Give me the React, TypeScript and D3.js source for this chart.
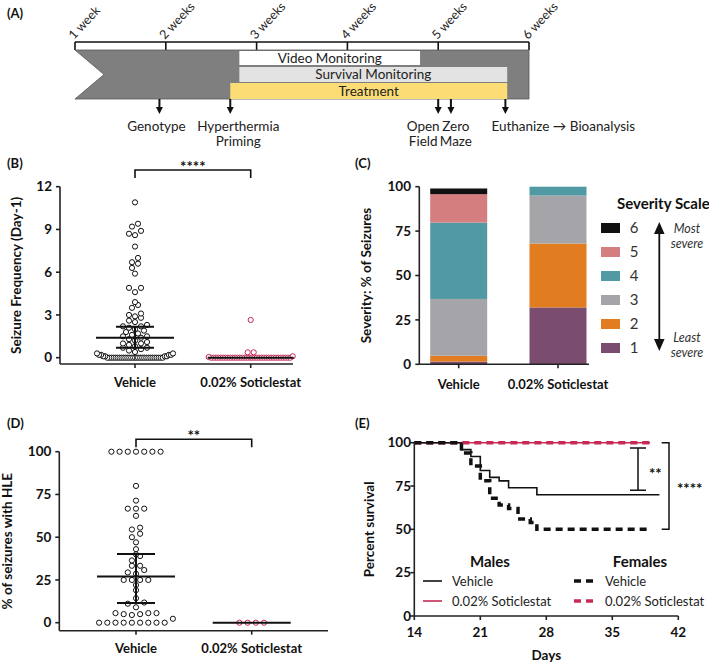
import React from "react";
import * as d3 from "d3";

const FONT = "Lato, 'Open Sans', Arial, sans-serif";
const RED = "#c62a55";

// ---------- Panel A: timeline ----------
const weekTicks = [1, 2, 3, 4, 5, 6];
const weekLabels = ["1 week", "2 weeks", "3 weeks", "4 weeks", "5 weeks", "6 weeks"];
const phaseNames = ["Video Monitoring", "Survival Monitoring", "Treatment"];
const phaseStart = [2.81, 2.81, 2.71];
const phaseEnd = [4.8, 5.76, 5.76];
const phaseColors = ["#ffffff", "#e3e3e3", "#fcdc74"];
const eventWeeks = [1.93, 2.71, 5.0, 5.14, 5.74];
const eventLabels = [["Genotype"], ["Hyperthermia", "Priming"], ["Open", "Field"], ["Zero", "Maze"], ["Euthanize \u2192 Bioanalysis"]];

// ---------- Panel B: seizure frequency ----------
const categories = ["Vehicle", "0.02% Soticlestat"];
const freqVehicle = [
  0, 0, 0, 0, 0, 0, 0, 0, 0, 0, 0, 0, 0, 0, 0, 0, 0, 0, 0, 0, 0, 0, 0, 0, 0, 0, 0, 0,
  0.1, 0.1, 0.1, 0.1, 0.2, 0.2, 0.2, 0.2, 0.3, 0.3, 0.4, 0.5, 0.6, 0.7, 0.7, 0.8, 0.9,
  1.0, 1.0, 1.1, 1.2, 1.3, 1.4, 1.5, 1.5, 1.6, 1.7, 1.8, 1.9, 2.0, 2.1, 2.2, 2.2, 2.3,
  2.5, 2.6, 2.8, 2.9, 3.0, 3.1, 3.5, 3.7, 3.9, 4.6, 4.9, 4.9, 5.9, 6.3, 6.6, 6.7, 7.0,
  7.8, 8.6, 8.7, 8.9, 9.2, 9.4, 10.9,
];
const freqSoticlestat = [
  0, 0, 0, 0, 0, 0, 0, 0, 0, 0, 0, 0, 0, 0, 0, 0, 0, 0, 0, 0, 0, 0, 0, 0, 0, 0, 0, 0, 0, 0,
  0, 0, 0, 0, 0.05, 0.1, 0.38, 0.38, 2.65,
];
const freqCenter = [1.4, 0];
const freqLow = [0.7, 0];
const freqHigh = [2.17, 0];
const freqTicks = [0, 3, 6, 9, 12];

// ---------- Panel C: severity ----------
const severityLevels = [1, 2, 3, 4, 5, 6];
const severityVehicle = [1.5, 3.3, 32, 43, 16, 3.2];
const severitySoticlestat = [32, 36, 27, 5, 0, 0];
const severityColors = ["#7a4d70", "#e27c20", "#a5a5a9", "#5199a3", "#d47e80", "#111111"];
const pctTicks = [0, 25, 50, 75, 100];

// ---------- Panel D: HLE ----------
const hleVehicle = [
  0, 0, 0, 0, 0, 0, 0, 0, 0, 2.3, 4.5, 5, 5, 5.6, 5.6, 5.6, 9, 11.1, 11.8, 14.3, 19, 22,
  25, 25, 25, 25, 28.6, 29.4, 30.8, 33.3, 33.3, 36.4, 39, 40, 43, 47, 50, 52, 54.5, 55.6,
  62.5, 66.7, 66.7, 66.7, 71.4, 80, 100, 100, 100, 100, 100, 100, 100,
];
const hleSoticlestat = [0, 0, 0, 0];
const hleCenter = [27, 0];
const hleLow = [11.5, 0];
const hleHigh = [40.2, 0];

// ---------- Panel E: survival ----------
const maleVehDays = [14, 19, 20, 21, 22, 23, 24, 27, 40];
const maleVehSurv = [100, 96, 92, 84, 80, 78, 74, 70, 70];
const femaleVehDays = [14, 19, 20, 21, 22, 23, 24, 25, 26.3, 27, 39];
const femaleVehSurv = [100, 94, 86.5, 78, 68, 64, 62, 56, 54, 50, 50];
const maleSotDays = [14, 39];
const maleSotSurv = [100, 100];
const femaleSotDays = [14, 39];
const femaleSotSurv = [100, 100];
const dayTicks = [14, 21, 28, 35, 42];

type Dot = { x: number; y: number };
function swarm(values: number[], y: (v: number) => number, cx: number, spacing: number, maxW: number, binPx: number): Dot[] {
  const sorted = [...values].sort((a, b) => a - b);
  const bins: number[][] = [];
  let cur: number[] = [];
  let startY = 0;
  for (const v of sorted) {
    const py = y(v);
    if (cur.length && Math.abs(py - startY) > binPx) {
      bins.push(cur);
      cur = [];
    }
    if (!cur.length) startY = py;
    cur.push(v);
  }
  if (cur.length) bins.push(cur);
  const out: Dot[] = [];
  for (const b of bins) {
    const n = b.length;
    const s = n > 1 ? Math.min(spacing, maxW / (n - 1)) : 0;
    // slots ordered centre-out; the smallest values take the central slots
    const slots = d3.range(n).map((i) => (i - (n - 1) / 2) * s);
    slots.sort((a, c) => Math.abs(a) - Math.abs(c) || a - c);
    b.forEach((v, i) => out.push({ x: cx + slots[i], y: y(v) }));
  }
  return out;
}

function DotPanel(props: {
  label: string;
  title: string;
  titleX: number;
  yScale: d3.ScaleLinear<number, number>;
  ticks: number[];
  xScale: d3.ScalePoint<string>;
  axisY: number;
  axisX0: number;
  axisX1: number;
  series: number[][];
  center: number[];
  low: number[];
  high: number[];
  spacing: number;
  maxW: number[];
  sig: string;
  sigY: number;
  labelY: number;
  catY: number;
}) {
  const { yScale, xScale } = props;
  const yTop = yScale(props.ticks[props.ticks.length - 1]);
  const xs = categories.map((c) => xScale(c) as number);
  const colors = ["#111", RED];
  return (
    <g>
      <text x={7} y={props.labelY} fontSize={13} fontWeight="bold">{props.label}</text>
      <line x1={props.axisX0} x2={props.axisX0} y1={yTop} y2={props.axisY} stroke="#222" strokeWidth={1.6} />
      {props.ticks.map((t) => (
        <g key={t}>
          <line x1={props.axisX0 - 4} x2={props.axisX0} y1={yScale(t)} y2={yScale(t)} stroke="#222" strokeWidth={1.6} />
          <text x={props.axisX0 - 8} y={yScale(t)} dy="0.35em" textAnchor="end" fontSize={13.5} fontWeight="bold">{t}</text>
        </g>
      ))}
      <line x1={props.axisX0} x2={props.axisX1} y1={props.axisY} y2={props.axisY} stroke="#222" strokeWidth={1.6} />
      {categories.map((c, i) => (
        <g key={c}>
          <line x1={xs[i]} x2={xs[i]} y1={props.axisY} y2={props.axisY + 4} stroke="#222" strokeWidth={1.6} />
          <text x={xs[i]} y={props.catY} textAnchor="middle" fontSize={13} fontWeight="bold">{c}</text>
        </g>
      ))}
      <text transform={`translate(${props.titleX},${(yTop + props.axisY) / 2}) rotate(-90)`} textAnchor="middle" fontSize={13.5} fontWeight="bold">{props.title}</text>
      {props.series.map((vals, i) =>
        swarm(vals, (v) => yScale(v), xs[i], props.spacing, props.maxW[i], 5).map((d, j) => (
          <circle key={`${i}-${j}`} cx={d.x} cy={d.y} r={2.6} fill="#fff" stroke={colors[i]} strokeWidth={1} />
        ))
      )}
      {categories.map((c, i) => {
        const half = props.maxW[i] / 2 + 1;
        return (
          <g key={c}>
            <line x1={xs[i] - half} x2={xs[i] + half} y1={yScale(props.center[i])} y2={yScale(props.center[i])} stroke="#111" strokeWidth={2} />
            {props.high[i] > props.low[i] && (
              <g>
                <line x1={xs[i]} x2={xs[i]} y1={yScale(props.low[i])} y2={yScale(props.high[i])} stroke="#111" strokeWidth={2} />
                <line x1={xs[i] - 19} x2={xs[i] + 19} y1={yScale(props.low[i])} y2={yScale(props.low[i])} stroke="#111" strokeWidth={2} />
                <line x1={xs[i] - 19} x2={xs[i] + 19} y1={yScale(props.high[i])} y2={yScale(props.high[i])} stroke="#111" strokeWidth={2} />
              </g>
            )}
          </g>
        );
      })}
      <path d={`M${xs[0]},${props.sigY + 8}V${props.sigY}H${xs[1]}V${props.sigY + 8}`} fill="none" stroke="#111" strokeWidth={1.6} />
      <text x={(xs[0] + xs[1]) / 2} y={props.sigY + 2} textAnchor="middle" fontSize={15} fontWeight="bold">{props.sig}</text>
    </g>
  );
}

export default function App() {
  const xw = d3.scaleLinear().domain([1, 6]).range([75, 529]);
  const barTop = 50, barBot = 99;
  const phaseY = [51, 67, 83];
  const phaseH = [14, 15, 16];
  const evAnchor = ["middle", "middle", "middle", "middle", "start"];
  const evDx = [-3, 8, -15, 5, -14];

  const yB = d3.scaleLinear().domain([0, 12]).range([357.7, 186.7]);
  const xB = d3.scalePoint<string>().domain(categories).range([135, 250.7]);
  const yD = d3.scaleLinear().domain([0, 100]).range([622.7, 451.7]);
  const xD = d3.scalePoint<string>().domain(categories).range([136, 251.7]);
  const yC = d3.scaleLinear().domain([0, 100]).range([364.3, 186.7]);
  const xC = d3.scalePoint<string>().domain(categories).range([458.7, 558]);
  const barW = 57;
  const stacks = [severityVehicle, severitySoticlestat];
  const xE = d3.scaleLinear().domain([14, 42]).range([414.3, 678.3]);
  const yE = d3.scaleLinear().domain([0, 100]).range([616, 442.7]);
  const line = (days: number[], surv: number[]) =>
    d3.line<number>().x((_, i) => xE(days[i])).y((d) => yE(d)).curve(d3.curveStepAfter)(surv) || "";

  return (
    <svg width={709} height={662} style={{ position: "absolute", left: 0, top: 0, background: "#fff" }} fontFamily={FONT} fill="#111">
      {/* ================= Panel A ================= */}
      <text x={7} y={18} fontSize={13} fontWeight="bold">(A)</text>
      <line x1={xw(1)} x2={xw(6)} y1={42} y2={42} stroke="#111" strokeWidth={1.6} />
      {weekTicks.map((w, i) => (
        <g key={w}>
          <line x1={xw(w)} x2={xw(w)} y1={42} y2={barTop} stroke="#111" strokeWidth={1.6} />
          <text transform={`translate(${xw(w) - 1},${40}) rotate(-47)`} fontSize={12.5} fill="#222">{weekLabels[i]}</text>
        </g>
      ))}
      <polygon
        points={`${xw(1)},${barTop} ${xw(6)},${barTop} ${xw(6)},${barBot} ${xw(1)},${barBot} ${xw(1) + 29},${(barTop + barBot) / 2}`}
        fill="#7f7f7f"
        stroke="#555"
        strokeWidth={0.8}
      />
      {phaseNames.map((p, i) => (
        <g key={p}>
          <rect x={xw(phaseStart[i])} y={phaseY[i]} width={xw(phaseEnd[i]) - xw(phaseStart[i])} height={phaseH[i]} fill={phaseColors[i]} />
          <text x={(xw(phaseStart[i]) + xw(phaseEnd[i])) / 2} y={phaseY[i] + phaseH[i] / 2} dy="0.36em" textAnchor="middle" fontSize={13.5} fill="#222">{p}</text>
        </g>
      ))}
      {eventWeeks.map((w, i) => (
        <g key={i}>
          <line x1={xw(w)} x2={xw(w)} y1={barBot} y2={108} stroke="#111" strokeWidth={2} />
          <polygon points={`${xw(w) - 3.5},${107} ${xw(w) + 3.5},${107} ${xw(w)},${114}`} fill="#111" />
          {eventLabels[i].map((t, k) => (
            <text key={k} x={xw(w) + evDx[i]} y={131 + k * 15} textAnchor={evAnchor[i] as any} fontSize={13.5} fill="#222">{t}</text>
          ))}
        </g>
      ))}

      {/* ================= Panel B ================= */}
      <DotPanel
        label="(B)" title="Seizure Frequency (Day-1)" titleX={21}
        yScale={yB} ticks={freqTicks} xScale={xB}
        axisY={364} axisX0={60} axisX1={293}
        series={[freqVehicle, freqSoticlestat]}
        center={freqCenter} low={freqLow} high={freqHigh}
        spacing={6} maxW={[76, 84]} sig="****" sigY={170} labelY={168} catY={387}
      />

      {/* ================= Panel D ================= */}
      <DotPanel
        label="(D)" title="% of seizures with HLE" titleX={12}
        yScale={yD} ticks={pctTicks} xScale={xD}
        axisY={630.7} axisX0={59.3} axisX1={328}
        series={[hleVehicle, hleSoticlestat]}
        center={hleCenter} low={hleLow} high={hleHigh}
        spacing={8.2} maxW={[76, 76]} sig="**" sigY={439.3} labelY={428} catY={653}
      />

      {/* ================= Panel C ================= */}
      <text x={355} y={168} fontSize={13} fontWeight="bold">(C)</text>
      {stacks.map((vals, ci) => {
        const cx = xC(categories[ci]) as number;
        let acc = 0;
        return (
          <g key={ci}>
            {vals.map((v, li) => {
              const y0 = acc;
              acc += v;
              return v > 0 ? (
                <rect key={li} x={cx - barW / 2} y={yC(acc)} width={barW} height={yC(y0) - yC(acc)} fill={severityColors[li]} />
              ) : null;
            })}
          </g>
        );
      })}
      <line x1={419.3} x2={419.3} y1={yC(100)} y2={yC(0)} stroke="#222" strokeWidth={1.6} />
      <line x1={419.3} x2={589} y1={yC(0)} y2={yC(0)} stroke="#222" strokeWidth={1.6} />
      {pctTicks.map((t) => (
        <g key={t}>
          <line x1={415.3} x2={419.3} y1={yC(t)} y2={yC(t)} stroke="#222" strokeWidth={1.6} />
          <text x={411} y={yC(t)} dy="0.35em" textAnchor="end" fontSize={13.5} fontWeight="bold">{t}</text>
        </g>
      ))}
      {categories.map((c) => (
        <g key={c}>
          <line x1={xC(c) as number} x2={xC(c) as number} y1={yC(0)} y2={yC(0) + 4} stroke="#222" strokeWidth={1.6} />
          <text x={xC(c) as number} y={389} textAnchor="middle" fontSize={13} fontWeight="bold">{c}</text>
        </g>
      ))}
      <text transform={`translate(371,${(yC(100) + yC(0)) / 2}) rotate(-90)`} textAnchor="middle" fontSize={13.5} fontWeight="bold">Severity: % of Seizures</text>
      <text x={617} y={209} fontSize={15} fontWeight="bold">Severity Scale</text>
      {severityLevels.map((lv, i) => {
        const cy = 228 + (6 - lv) * 24;
        return (
          <g key={lv}>
            <rect x={601} y={cy - 5} width={19} height={10} fill={severityColors[i]} />
            <text x={634} y={cy} dy="0.36em" textAnchor="middle" fontSize={15} fill="#333">{lv}</text>
          </g>
        );
      })}
      <line x1={659.3} x2={659.3} y1={232} y2={341} stroke="#111" strokeWidth={1.8} />
      <polygon points="654,234 664.6,234 659.3,222" fill="#111" />
      <polygon points="654,339 664.6,339 659.3,351" fill="#111" />
      <text x={687} y={233} textAnchor="middle" fontSize={12.5} fontStyle="italic" fill="#333">Most</text>
      <text x={687} y={248} textAnchor="middle" fontSize={12.5} fontStyle="italic" fill="#333">severe</text>
      <text x={687} y={342} textAnchor="middle" fontSize={12.5} fontStyle="italic" fill="#333">Least</text>
      <text x={687} y={357} textAnchor="middle" fontSize={12.5} fontStyle="italic" fill="#333">severe</text>

      {/* ================= Panel E ================= */}
      <text x={355} y={428} fontSize={13} fontWeight="bold">(E)</text>
      <path d={line(maleSotDays, maleSotSurv)} fill="none" stroke={RED} strokeWidth={1.4} />
      <path d={line(femaleSotDays, femaleSotSurv)} fill="none" stroke={RED} strokeWidth={3.5} strokeDasharray="7,5" />
      <path d={line(maleVehDays, maleVehSurv)} fill="none" stroke="#111" strokeWidth={1.6} />
      <path d={line(femaleVehDays, femaleVehSurv)} fill="none" stroke="#111" strokeWidth={3.5} strokeDasharray="7,5" />
      <line x1={xE(14)} x2={xE(14)} y1={yE(100)} y2={yE(0)} stroke="#222" strokeWidth={1.6} />
      <line x1={xE(14)} x2={xE(42)} y1={yE(0)} y2={yE(0)} stroke="#222" strokeWidth={1.6} />
      {pctTicks.map((t) => (
        <g key={t}>
          <line x1={xE(14) - 4} x2={xE(14)} y1={yE(t)} y2={yE(t)} stroke="#222" strokeWidth={1.6} />
          <text x={411} y={yE(t)} dy="0.35em" textAnchor="end" fontSize={13.5} fontWeight="bold">{t}</text>
        </g>
      ))}
      {dayTicks.map((t) => (
        <g key={t}>
          <line x1={xE(t)} x2={xE(t)} y1={yE(0)} y2={yE(0) + 4} stroke="#222" strokeWidth={1.6} />
          <text x={xE(t)} y={637} textAnchor="middle" fontSize={13.5} fontWeight="bold">{t}</text>
        </g>
      ))}
      <text x={xE(28)} y={660} textAnchor="middle" fontSize={13.5} fontWeight="bold">Days</text>
      <text transform={`translate(374,${(yE(100) + yE(0)) / 2}) rotate(-90)`} textAnchor="middle" fontSize={13.5} fontWeight="bold">Percent survival</text>
      <path d={`M630,${yE(97)}H646M638,${yE(97)}V${yE(72.5)}M630,${yE(72.5)}H646`} fill="none" stroke="#111" strokeWidth={1.5} />
      <text x={649} y={479} fontSize={15} fontWeight="bold">**</text>
      <path d={`M661.7,${yE(100)}H669V${yE(50)}H661.7`} fill="none" stroke="#111" strokeWidth={1.5} />
      <text x={677} y={494} fontSize={15} fontWeight="bold">****</text>
      <text x={490} y={567} textAnchor="middle" fontSize={15} fontWeight="bold">Males</text>
      <text x={640} y={567} textAnchor="middle" fontSize={15} fontWeight="bold">Females</text>
      <line x1={423} x2={442} y1={581} y2={581} stroke="#111" strokeWidth={1.6} />
      <text x={452} y={581} dy="0.36em" fontSize={13} fill="#222">Vehicle</text>
      <line x1={423} x2={442} y1={601} y2={601} stroke={RED} strokeWidth={1.6} />
      <text x={452} y={601} dy="0.36em" fontSize={13} fill="#222">0.02% Soticlestat</text>
      <line x1={574} x2={597} y1={581} y2={581} stroke="#111" strokeWidth={3.5} strokeDasharray="7,5" />
      <text x={605} y={581} dy="0.36em" fontSize={13} fill="#222">Vehicle</text>
      <line x1={574} x2={597} y1={601} y2={601} stroke={RED} strokeWidth={3.5} strokeDasharray="7,5" />
      <text x={605} y={601} dy="0.36em" fontSize={13} fill="#222">0.02% Soticlestat</text>
    </svg>
  );
}
